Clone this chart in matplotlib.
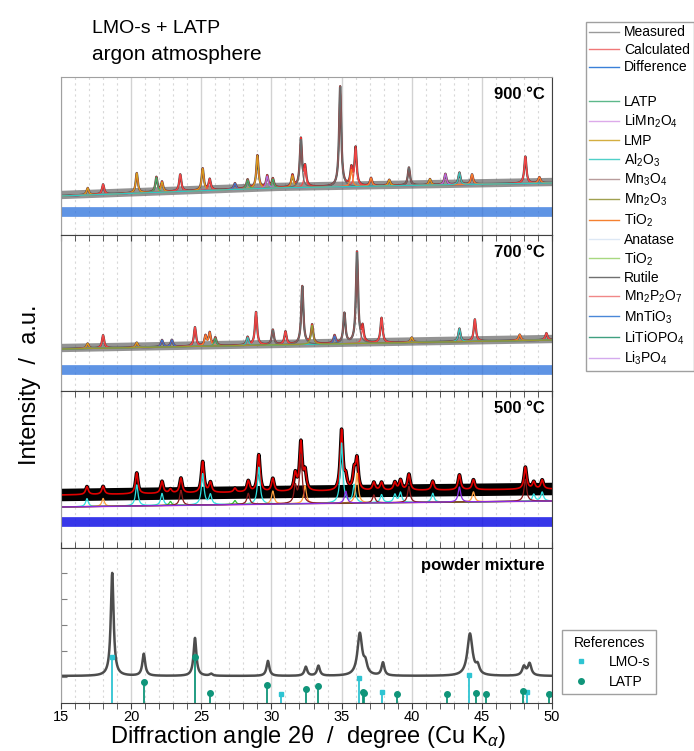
import numpy as np
import matplotlib.pyplot as plt
from matplotlib.lines import Line2D

plt.rcParams['font.family'] = ['Liberation Sans', 'DejaVu Sans']
plt.rcParams['mathtext.fontset'] = 'custom'
plt.rcParams['mathtext.rm'] = 'Liberation Sans'
plt.rcParams['mathtext.it'] = 'Liberation Sans:italic'
plt.rcParams['mathtext.bf'] = 'Liberation Sans:bold'

# ---------------- data (intensity in a.u.) ----------------
panel_names = ['900 °C', '700 °C', '500 °C', 'powder mixture']

# background levels at 15, 30 and 50 degree
bg_angles = [15, 30, 50]
bg_900 = [39, 47, 52]
bg_700 = [42, 46, 51]
bg_500 = [53, 56, 59]
comp_bg_500 = [41, 44, 47]
diff_level = [23, 21, 26]

# 900 °C peaks: angle, height, phase
pk900_pos = [16.9, 18.0, 20.4, 21.8, 22.2, 23.5, 25.1, 25.6, 27.4, 28.3, 29.0, 29.7, 30.1,
             31.5, 32.1, 32.4, 34.9, 35.7, 36.0, 37.1, 38.4, 39.8, 41.3, 42.4, 43.4, 44.3,
             48.1, 49.1]
pk900_h = [7, 10, 20, 15, 10, 17, 22, 11, 6, 9, 33, 12, 9,
           12, 48, 19, 100, 17, 38, 8, 6, 18, 6, 11, 12, 10,
           27, 6]
pk900_ph = ['LMP', 'MPO', 'LMP', 'LATP', 'LMP', 'MPO', 'LMP', 'MPO', 'MTO', 'LATP', 'LMP', 'LMO', 'LATP',
            'LMP', 'Rut', 'MPO', 'Rut', 'TiO2', 'MPO', 'TiO2', 'LMP', 'Rut', 'LMP', 'LMO', 'Al2O3', 'TiO2',
            'MPO', 'TiO2']

# 700 °C peaks
pk700_pos = [16.9, 18.0, 20.4, 22.2, 22.9, 24.55, 25.3, 25.6, 26.0, 28.3, 28.9, 30.1, 31.0,
             32.2, 32.9, 34.5, 35.2, 36.1, 36.5, 37.85, 40.0, 43.4, 44.5, 47.7, 49.6]
pk700_h = [5, 13, 5, 7, 7, 19, 10, 13, 8, 8, 33, 15, 13,
           58, 19, 8, 30, 91, 15, 25, 5, 13, 22, 6, 7]
pk700_ph = ['LMP', 'MPO', 'LMP', 'MTO', 'MTO', 'MPO', 'TiO2', 'TiO2', 'LATP', 'Al2O3', 'MPO', 'Rut', 'MPO',
            'Rut', 'Mn2O3', 'MTO', 'Rut', 'Rut', 'MPO', 'MPO', 'LMP', 'Al2O3', 'MPO', 'TiO2', 'MPO']

# 500 °C peaks
pk500_pos = [16.85, 18.0, 20.4, 22.2, 22.8, 23.55, 25.1, 25.65, 27.4, 28.35, 29.1, 30.1, 31.7,
             32.1, 32.4, 35.0, 35.3, 35.9, 36.1, 37.3, 37.85, 38.8, 39.2, 39.8, 41.5, 43.4,
             44.4, 48.1, 48.7, 49.3]
pk500_h = [8, 8, 21, 12, 4, 15, 31, 10, 4, 11, 37, 13, 17,
           48, 18, 60, 12, 18, 30, 8, 8, 8, 10, 16, 9, 15,
           10, 22, 7, 9]
pk500_ph = ['Al2O3', 'TiO2', 'Al2O3', 'Al2O3', 'LATP', 'Rut', 'Al2O3', 'Al2O3', 'LATP', 'Rut', 'Al2O3', 'TiO2', 'Rut',
            'Rut', 'TiO2', 'Al2O3', 'MTO', 'Al2O3', 'TiO2', 'Rut', 'Al2O3', 'Al2O3', 'Al2O3', 'Rut', 'Al2O3', 'MTO',
            'TiO2', 'Rut', 'Al2O3', 'Al2O3']

# powder mixture
bg_powder = 27
pkmix_pos = [18.65, 20.9, 24.55, 25.7, 29.75, 32.45, 33.35, 36.3, 36.7, 37.95, 44.15, 44.7, 48.0, 48.4]
pkmix_h = [103, 22, 38, 2, 15, 9, 10, 42, 10, 13, 42, 8, 9, 12]
pkmix_w = [0.12, 0.12, 0.12, 0.12, 0.12, 0.12, 0.12, 0.2, 0.15, 0.12, 0.22, 0.15, 0.15, 0.15]

# reference sticks
lmo_pos = [18.65, 30.7, 36.25, 37.9, 44.05, 48.25]
lmo_h = [46, 9, 25, 11, 28, 11]
latp_pos = [20.9, 24.55, 25.65, 29.7, 32.45, 33.35, 36.55, 36.62, 38.95, 42.55, 44.6, 45.3, 47.9, 49.8]
latp_h = [21, 46, 10, 18, 14, 17, 11, 10, 9, 9, 10, 9, 12, 9]

legend_labels = ['Measured', 'Calculated', 'Difference', '', 'LATP', r'LiMn$_2$O$_4$', 'LMP',
                 r'Al$_2$O$_3$', r'Mn$_3$O$_4$', r'Mn$_2$O$_3$', r'TiO$_2$', 'Anatase', r'TiO$_2$',
                 'Rutile', r'Mn$_2$P$_2$O$_7$', r'MnTiO$_3$', r'LiTiOPO$_4$', r'Li$_3$PO$_4$']
legend_colors = ['#9a9a9a', '#f07878', '#3a80d8', 'none', '#5cb88a', '#dcaaea', '#d4ae40',
                 '#50d0c8', '#b89c9c', '#a0a050', '#f58030', '#dde8f5', '#a8d880',
                 '#707070', '#f08888', '#4a88d8', '#40a080', '#d4aaee']

# ---------------- colours ----------------
ph_col = {'LATP': '#3fae6a', 'LMO': '#b070e0', 'LMP': '#d4a020', 'Al2O3': '#30c8c0',
          'Rut': '#6a6a6a', 'Mn2O3': '#9a9a30', 'TiO2': '#f58030', 'MPO': '#f04848',
          'MTO': '#3a78d0'}
ph_col_500 = {'LATP': '#30c030', 'Al2O3': '#30e0e0', 'Rut': '#8b1a1a', 'TiO2': '#ffa040',
              'MTO': '#8a2be2'}
lmo_col = '#2ec4d2'
latp_col = '#10957a'

x = np.linspace(15, 50, 3501)


def peaks(pos, h, w):
    ws = w if np.iterable(w) else [w] * len(pos)
    y = np.zeros_like(x)
    for p, a, g in zip(pos, h, ws):
        y += a / (1 + ((x - p) / g) ** 2)
    return y


fig = plt.figure(figsize=(6.94, 7.51), dpi=100)
W, H = 694, 751
tops = [77, 235, 391, 548]
bots = [235, 391, 548, 703]
axes = []
for t, b in zip(tops, bots):
    ax = fig.add_axes([61 / W, 1 - b / H, 491 / W, (b - t) / H])
    ax.set_xlim(15, 50)
    ax.set_ylim(0, b - t)
    ax.set_xticks(range(15, 51, 5))
    ax.set_xticks(range(15, 51), minor=True)
    ax.grid(True, which='major', axis='x', color='#d2d2d2', lw=1)
    ax.grid(True, which='minor', axis='x', color='#d8d8d8', lw=0.8, ls=(0, (2, 3)))
    ax.set_axisbelow(True)
    ax.set_yticks([])
    for s in ax.spines.values():
        s.set_color('#404040')
    ax.spines['left'].set_color('#a0a0a0')
    ax.tick_params(axis='x', which='both', bottom=False, labelbottom=False,
                   top=True, direction='in', length=4, color='#404040')
    axes.append(ax)

axes[0].tick_params(axis='x', which='both', top=False)
axes[0].spines['top'].set_color('#a0a0a0')

# refined panels
panels = [(bg_900, pk900_pos, pk900_h, pk900_ph, 0.09, ph_col),
          (bg_700, pk700_pos, pk700_h, pk700_ph, 0.09, ph_col),
          (bg_500, pk500_pos, pk500_h, pk500_ph, 0.11, ph_col_500)]
for i, (bg, pos, h, ph, w, cols) in enumerate(panels):
    ax = axes[i]
    base = np.interp(x, bg_angles, bg)
    calc = base + peaks(pos, h, w)
    if i < 2:
        # measured: noisy band along the background, thin trace through the peaks
        ax.plot(x, base + 1, color='#5a5a5a', lw=6, alpha=0.65)
        ax.plot(x, calc, color='#4a4a4a', lw=1.6)
        ax.plot(x, calc, color='#f03030', lw=0.9)
        cbase = base
        ax.plot(x, cbase, color='#b070e0', lw=1)
        dcol, dalpha = '#2a70dc', 0.75
    else:
        ax.plot(x, base, color='#000000', lw=9)
        ax.plot(x, calc, color='#000000', lw=2.5)
        ax.plot(x, calc, color='#e00000', lw=1.2)
        cbase = np.interp(x, bg_angles, comp_bg_500)
        ax.plot(x, cbase, color='#ff55cc', lw=1.2)
        dcol, dalpha = '#1414e6', 0.85
    for name in dict.fromkeys(ph):
        sel = [k for k, p in enumerate(ph) if p == name]
        comp = cbase + peaks([pos[k] for k in sel], [h[k] for k in sel], w)
        ax.plot(x, comp, color=cols[name], lw=0.9)
    ax.plot(x, np.full_like(x, diff_level[i]), color=dcol, lw=7, alpha=dalpha)

# powder mixture with reference sticks
ax = axes[3]
ax.plot(x, bg_powder + peaks(pkmix_pos, pkmix_h, pkmix_w), color='#4d4d4d', lw=1.8)
ax.vlines(lmo_pos, 0, lmo_h, color=lmo_col, lw=1.3)
ax.vlines(latp_pos, 0, latp_h, color=latp_col, lw=1.3)
ax.plot(lmo_pos, lmo_h, ls='none', marker='s', ms=3.5, color=lmo_col)
ax.plot(latp_pos, latp_h, ls='none', marker='o', ms=4, color=latp_col)
ax.set_yticks(np.arange(26, 140, 26))
ax.tick_params(axis='y', direction='in', length=4, color='#808080', labelleft=False)
ax.tick_params(axis='x', which='both', bottom=True, labelbottom=True, labelsize=10.5,
               direction='out', length=4, pad=1)

for ax, name in zip(axes, panel_names):
    ax.text(0.985, 0.935, name, transform=ax.transAxes, ha='right', va='top',
            fontsize=12, fontweight='bold')

fig.text(308 / W, 1 - 743 / H, 'Diffraction angle 2θ  /  degree (Cu K$_\\alpha$)',
         ha='center', va='baseline', fontsize=17)
fig.text(30 / W, 1 - 385 / H, 'Intensity  /  a.u.', rotation=90, ha='center', va='center',
         fontsize=17)
fig.text(92 / W, 1 - 33 / H, 'LMO-s + LATP', fontsize=14, va='baseline')
fig.text(92 / W, 1 - 60 / H, 'argon atmosphere', fontsize=15, va='baseline')

handles = [Line2D([], [], color=c, lw=1) for c in legend_colors]
fig.legend(handles, legend_labels, loc='upper left', bbox_to_anchor=(586 / W, 1 - 22 / H),
           fontsize=10, handlelength=2.15, handletextpad=0.35, labelspacing=0.25,
           borderpad=0.25, borderaxespad=0, frameon=True, fancybox=False,
           edgecolor='#a0a0a0', framealpha=1)

ref_handles = [Line2D([], [], ls='none', marker='s', ms=3.5, color=lmo_col),
               Line2D([], [], ls='none', marker='o', ms=4, color=latp_col)]
fig.legend(ref_handles, ['LMO-s', 'LATP'], title='References', loc='upper left',
           bbox_to_anchor=(562 / W, 1 - 630 / H), fontsize=10, title_fontsize=10,
           frameon=True, fancybox=False, edgecolor='#a0a0a0', framealpha=1,
           borderpad=0.4, borderaxespad=0, labelspacing=0.4, handletextpad=1.0)

fig.savefig('out.png', dpi=100)
